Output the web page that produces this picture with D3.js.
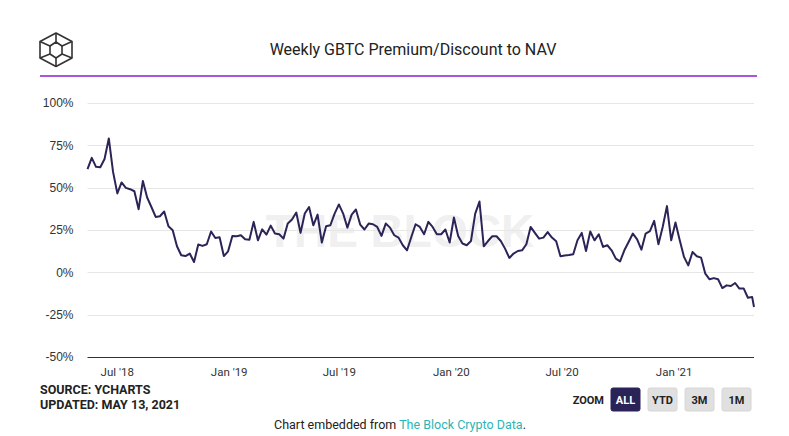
<!DOCTYPE html>
<html>
<head>
<meta charset="utf-8">
<script src="https://cdn.jsdelivr.net/npm/d3@7"></script>
<style>
  html, body { margin: 0; padding: 0; background: #fff; }
  svg { display: block; }
</style>
</head>
<body>
<svg id="chart" width="789" height="436"></svg>
<script>
// ---- Data ----
const title = "Weekly GBTC Premium/Discount to NAV";
const firstWeek = "2018-05-14";
const lastUpdate = "2021-05-13";
const premium = [
  60.9, 67.6, 62.3, 62.1, 66.9, 79.1, 59.3, 46.6, 53.1, 49.9,
  49.1, 47.9, 37.3, 54.0, 44.2, 38.6, 32.7, 33.1, 35.9, 27.2,
  24.9, 15.4, 10.1, 9.6, 11.1, 6.1, 16.4, 15.6, 16.6, 24.1,
  20.3, 20.7, 9.6, 12.4, 21.5, 21.3, 21.9, 19.5, 19.3, 29.8,
  18.9, 25.4, 22.3, 27.6, 22.9, 22.5, 19.9, 28.8, 31.2, 35.3,
  23.3, 34.7, 38.6, 27.8, 34.1, 17.6, 27.2, 27.8, 34.7, 40.1,
  34.7, 26.4, 34.1, 37.1, 28.2, 25.3, 28.8, 28.4, 26.8, 21.5,
  28.8, 26.4, 21.9, 20.5, 16.0, 13.0, 20.9, 28.4, 26.8, 22.5,
  29.8, 26.8, 22.5, 22.5, 25.3, 17.6, 32.4, 21.5, 17.0, 16.0,
  18.5, 34.7, 41.8, 15.4, 18.5, 21.3, 21.3, 18.5, 14.0, 8.5,
  11.1, 12.6, 13.0, 16.6, 26.8, 23.3, 19.9, 20.5, 23.8, 20.5,
  18.3, 9.5, 9.9, 10.2, 10.7, 18.9, 23.3, 12.6, 24.1, 18.9,
  22.5, 15.0, 16.0, 13.0, 8.1, 6.5, 13.0, 17.9, 22.9, 19.5,
  13.4, 22.9, 24.3, 30.4, 16.6, 26.8, 39.1, 18.9, 29.4, 18.9,
  9.1, 4.1, 12.0, 9.5, 8.7, -0.8, -4.1, -3.4, -4.1, -9.3,
  -7.7, -8.1, -6.3, -9.6, -9.5, -15.0, -14.6
];
const lastValue = -20.5;
const yTicks = [-50, -25, 0, 25, 50, 75, 100];
const xTickDates = ["2018-07-01", "2019-01-01", "2019-07-01", "2020-01-01", "2020-07-01", "2021-01-01"];
const zoomButtons = ["ALL", "YTD", "3M", "1M"];

// ---- Build series ----
const parse = d3.utcParse("%Y-%m-%d");
const start = parse(firstWeek);
const series = premium.map((v, i) => ({ date: d3.utcWeek.offset(start, i), value: v }));
series.push({ date: parse(lastUpdate), value: lastValue });

const svg = d3.select("#chart");
const plotL = 87.5, plotR = 754, plotT = 103, plotB = 357;

const x = d3.scaleUtc()
  .domain([series[0].date, series[series.length - 1].date])
  .range([plotL, plotR]);
const y = d3.scaleLinear().domain([-50, 100]).range([plotB, plotT]);

// ---- Header ----
const logo = svg.append("g")
  .attr("fill", "none").attr("stroke", "#333").attr("stroke-width", 1.6)
  .attr("stroke-linejoin", "round");
logo.append("path").attr("d", "M56,33 L72,41.5 L72,58 L56,66.5 L40,58 L40,41.5 Z");
logo.append("path").attr("d", "M40,41.5 L50,46 L56,42 L62,46 L72,41.5");
logo.append("path").attr("d", "M50,46 L50,54 L56,58 L62,54 L62,46");
logo.append("path").attr("d", "M56,33 L56,42 M56,58 L56,66.5 M40,58 L50,54 M72,58 L62,54");

svg.append("text")
  .attr("x", 413).attr("y", 55)
  .attr("text-anchor", "middle")
  .attr("font-family", "Roboto, 'Liberation Sans', sans-serif")
  .attr("font-size", 16).attr("fill", "#222")
  .text(title);

svg.append("line")
  .attr("x1", 40).attr("x2", 757).attr("y1", 76).attr("y2", 76)
  .attr("stroke", "#8b1fd1").attr("stroke-width", 1.5);

// ---- Watermark ----
svg.append("text")
  .attr("x", 400).attr("y", 247)
  .attr("text-anchor", "middle")
  .attr("font-family", "'Liberation Sans', Arial, sans-serif")
  .attr("font-weight", 700).attr("font-size", 46)
  .attr("fill", "#f0f0f0")
  .text("THE BLOCK");

// ---- Gridlines & Y axis ----
svg.append("g").selectAll("line").data(yTicks.filter(t => t !== -50)).join("line")
  .attr("x1", plotL).attr("x2", plotR)
  .attr("y1", d => Math.round(y(d)) + 0.5).attr("y2", d => Math.round(y(d)) + 0.5)
  .attr("stroke", "#e6e6e6").attr("stroke-width", 1);

const yAxis = svg.append("g")
  .attr("transform", `translate(${plotL - 14},0)`)
  .call(d3.axisLeft(y).tickValues(yTicks).tickSize(0).tickPadding(0).tickFormat(d => d + "%"));
yAxis.select(".domain").remove();
yAxis.selectAll("text")
  .attr("font-family", "'Liberation Sans', Arial, sans-serif")
  .attr("font-size", 12).attr("fill", "#333");

// ---- X axis ----
const xAxis = svg.append("g")
  .attr("transform", `translate(0,${plotB})`)
  .call(d3.axisBottom(x).tickValues(xTickDates.map(parse)).tickSize(0).tickPadding(11)
    .tickFormat(d3.utcFormat("%b '%y")));
xAxis.select(".domain").remove();
xAxis.selectAll("text")
  .attr("font-family", "Roboto, 'Liberation Sans', sans-serif")
  .attr("font-size", 11.5).attr("fill", "#333");
svg.append("line")
  .attr("x1", plotL).attr("x2", plotR).attr("y1", plotB + 0.5).attr("y2", plotB + 0.5)
  .attr("stroke", "#333").attr("stroke-width", 1.2);

// ---- Line ----
svg.append("path")
  .datum(series)
  .attr("fill", "none")
  .attr("stroke", "#2a2457")
  .attr("stroke-width", 2)
  .attr("stroke-linejoin", "round")
  .attr("d", d3.line().x(d => x(d.date)).y(d => y(d.value)));

// ---- Source ----
const src = svg.append("g")
  .attr("font-family", "Roboto, 'Liberation Sans', sans-serif")
  .attr("font-weight", 700).attr("font-size", 12.5).attr("fill", "#222");
src.append("text").attr("x", 40).attr("y", 394).text("SOURCE: YCHARTS");
src.append("text").attr("x", 40).attr("y", 409).text("UPDATED: MAY 13, 2021");

// ---- Zoom buttons ----
svg.append("text")
  .attr("x", 604).attr("y", 404).attr("text-anchor", "end")
  .attr("font-family", "Roboto, 'Liberation Sans', sans-serif")
  .attr("font-weight", 700).attr("font-size", 11).attr("fill", "#222")
  .text("ZOOM");
const btn = svg.append("g").selectAll("g").data(zoomButtons).join("g")
  .attr("transform", (d, i) => `translate(${611 + i * 37},388)`);
btn.append("rect")
  .attr("width", 29).attr("height", 23).attr("rx", 2)
  .attr("fill", (d, i) => i === 0 ? "#2a2358" : "#e0e0e0")
  .attr("stroke", (d, i) => i === 0 ? "#2a2358" : "#d6d6d6");
btn.append("text")
  .attr("x", 14.5).attr("y", 16).attr("text-anchor", "middle")
  .attr("font-family", "Roboto, 'Liberation Sans', sans-serif")
  .attr("font-weight", 700).attr("font-size", 11)
  .attr("fill", (d, i) => i === 0 ? "#fff" : "#222")
  .text(d => d);

// ---- Footer ----
const foot = svg.append("text")
  .attr("x", 400).attr("y", 429).attr("text-anchor", "middle")
  .attr("font-family", "Roboto, 'Liberation Sans', sans-serif")
  .attr("font-size", 12.5).attr("fill", "#222");
foot.append("tspan").text("Chart embedded from ");
foot.append("tspan").attr("fill", "#2bb5b4").text("The Block Crypto Data");
foot.append("tspan").text(".");
</script>
</body>
</html>
